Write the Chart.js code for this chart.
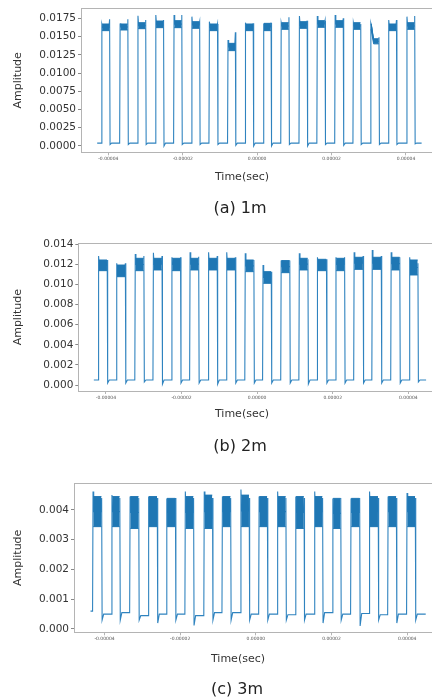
<!DOCTYPE html>
<html>
<head>
<meta charset="utf-8">
<script src="https://cdn.jsdelivr.net/npm/chart.js@4.4.0/dist/chart.umd.min.js"></script>
<style>
  body { margin: 0; background: #fff; width: 432px; height: 697px; overflow: hidden; position: relative; font-family: "DejaVu Sans", sans-serif; }
  canvas { position: absolute; left: 0; }
  .lbl { position: absolute; color: #333; transform: translate(-50%, -50%); white-space: nowrap; }
  .xt { font-size: 11px; }
  .cap { font-size: 16px; color: #222; }
</style>
</head>
<body>
<canvas id="c1" width="432" height="185" style="top:0px"></canvas>
<canvas id="c2" width="432" height="200" style="top:225px"></canvas>
<canvas id="c3" width="432" height="205" style="top:465px"></canvas>
<div class="lbl xt" style="left:242px;top:176px">Time(sec)</div>
<div class="lbl cap" style="left:240px;top:207px">(a) 1m</div>
<div class="lbl xt" style="left:242px;top:413px">Time(sec)</div>
<div class="lbl cap" style="left:240px;top:445px">(b) 2m</div>
<div class="lbl xt" style="left:238px;top:658px">Time(sec)</div>
<div class="lbl cap" style="left:237px;top:688px">(c) 3m</div>
<script>
// time values in microseconds, amplitudes

const xTicks = [-40, -20, 0, 20, 40]

// (a) 1m
const p1Rise = [-41.8, -36.9, -32.1, -27.3, -22.4, -17.6, -12.9, -7.9, -3.2, 1.7, 6.4, 11.3, 16.1, 20.9, 25.8, 30.5, 35.3, 40.2]
const p1Fall = [-39.6, -34.7, -29.9, -25.1, -20.2, -15.4, -10.6, -5.8, -1.0, 3.8, 8.6, 13.5, 18.3, 23.2, 27.9, 32.8, 37.5, 42.4]
const p1Top = [0.01672, 0.01672, 0.0169, 0.01713, 0.01718, 0.01704, 0.01672, 0.01407, 0.01672, 0.01681, 0.0169, 0.01704, 0.01718, 0.01718, 0.0169, 0.01675, 0.01672, 0.0169]
const p1Bot = [0.01581, 0.0159, 0.01608, 0.01622, 0.01622, 0.01613, 0.01581, 0.01307, 0.01581, 0.01581, 0.01599, 0.01613, 0.01627, 0.01627, 0.01599, 0.0160, 0.01581, 0.01599]
const p1SpikeL = [0.0167, 0.0168, 0.01786, 0.01796, 0.01796, 0.01773, 0.01704, 0.01453, 0.0169, 0.0168, 0.0169, 0.01782, 0.01782, 0.01796, 0.0169, 0.0168, 0.01727, 0.01773]
const p1SpikeR = [0.01736, 0.01736, 0.01727, 0.01727, 0.01796, 0.01704, 0.01672, 0.01558, 0.01681, 0.0169, 0.01764, 0.01718, 0.01718, 0.0175, 0.01672, 0.0149, 0.01727, 0.01782]
const p1Under = [0.0002, 0.0002, 0.0002, 0.0000, 0.0002, 0.0002, 0.0002, 0.0001, 0.0000, 0.0000, 0.0002, 0.0000, 0.0002, 0.0001, 0.0002, 0.0002, 0.0002, 0.0003]
const p1Low = [0.0004, 0.0004, 0.0004, 0.0004, 0.0004, 0.0004, 0.0004, 0.0004, 0.0004, 0.0004, 0.0004, 0.0004, 0.0004, 0.0004, 0.0004, 0.0004, 0.0004, 0.0004]
const p1Sag = { pulse: 15, from: 30.8, to: 31.3, top: 0.0147, bot: 0.0140 }
const p1YTicks = [0, 0.0025, 0.005, 0.0075, 0.01, 0.0125, 0.015, 0.0175]

// (b) 2m
const p2Rise = [-42.0, -37.2, -32.3, -27.5, -22.6, -17.8, -12.9, -8.1, -3.2, 1.5, 6.3, 11.1, 15.9, 20.8, 25.6, 30.4, 35.4, 40.3]
const p2Fall = [-39.6, -34.8, -29.9, -25.1, -20.2, -15.4, -10.5, -5.7, -0.8, 3.8, 8.7, 13.5, 18.4, 23.2, 28.1, 32.9, 37.8, 42.6]
const p2Top = [0.01244, 0.01194, 0.01261, 0.01261, 0.01261, 0.01261, 0.01261, 0.01261, 0.01244, 0.01128, 0.01238, 0.01261, 0.01251, 0.01261, 0.01271, 0.01271, 0.01271, 0.01244]
const p2Bot = [0.01138, 0.01078, 0.01138, 0.01145, 0.01138, 0.01145, 0.01145, 0.01145, 0.01128, 0.01012, 0.01118, 0.01145, 0.01138, 0.01138, 0.01151, 0.01151, 0.01145, 0.01095]
const p2SpikeL = [0.01284, 0.01211, 0.01304, 0.01317, 0.01271, 0.01321, 0.01321, 0.01321, 0.01311, 0.01194, 0.01238, 0.01311, 0.01271, 0.01271, 0.01321, 0.01344, 0.01321, 0.01271]
const p2SpikeR = [0.01244, 0.01211, 0.01284, 0.01284, 0.01271, 0.01277, 0.01284, 0.01271, 0.01244, 0.01128, 0.01238, 0.01251, 0.01251, 0.01271, 0.01284, 0.01284, 0.01271, 0.01211]
const p2Under = [0.0002, 0.0002, 0.0003, 0.0001, 0.0002, 0.0002, 0.0001, 0.0002, 0.0002, 0.0002, 0.0002, 0.0001, 0.0002, 0.0002, 0.0002, 0.0002, 0.0002, 0.0003]
const p2Low = [0.0005, 0.0005, 0.0005, 0.0005, 0.0005, 0.0005, 0.0005, 0.0005, 0.0005, 0.0005, 0.0005, 0.0005, 0.0005, 0.0005, 0.0005, 0.0005, 0.0005, 0.0005]
const p2YTicks = [0, 0.002, 0.004, 0.006, 0.008, 0.010, 0.012, 0.014]

// (c) 3m
const p3Rise = [-43.1, -38.1, -33.3, -28.4, -23.6, -18.7, -13.7, -8.9, -4.0, 0.8, 5.7, 10.5, 15.5, 20.3, 25.1, 30.0, 34.9, 39.9]
const p3Fall = [-40.7, -35.9, -30.9, -26.0, -21.2, -16.4, -11.4, -6.6, -1.7, 3.1, 8.0, 12.8, 17.7, 22.5, 27.5, 32.4, 37.2, 42.2]
const p3Top = [0.00445, 0.00445, 0.00445, 0.00445, 0.00439, 0.00445, 0.0045, 0.00445, 0.0045, 0.00445, 0.00445, 0.00445, 0.00445, 0.00439, 0.00439, 0.00445, 0.00445, 0.00445]
const p3Bot = [0.00344, 0.00344, 0.00338, 0.00344, 0.00344, 0.00338, 0.00338, 0.00344, 0.00344, 0.00344, 0.00344, 0.00338, 0.00344, 0.00338, 0.00344, 0.00344, 0.00344, 0.00344]
const p3SpikeL = [0.00462, 0.0045, 0.00445, 0.00445, 0.00439, 0.00462, 0.00462, 0.00445, 0.00469, 0.00445, 0.00462, 0.00445, 0.00462, 0.00439, 0.00439, 0.00462, 0.00445, 0.00457]
const p3SpikeR = [0.0044, 0.0044, 0.0044, 0.0044, 0.0044, 0.0044, 0.0044, 0.0044, 0.0044, 0.0044, 0.0044, 0.0044, 0.0044, 0.0044, 0.0044, 0.0044, 0.0044, 0.0044]
const p3Under = [0.0003, 0.0003, 0.0003, 0.0002, 0.0003, 0.00012, 0.0003, 0.0003, 0.0003, 0.0003, 0.0003, 0.0003, 0.0002, 0.0003, 0.0001, 0.0003, 0.0002, 0.0003]
const p3Low = [0.0005, 0.00055, 0.00045, 0.0005, 0.0005, 0.00045, 0.00055, 0.00055, 0.0005, 0.0005, 0.00048, 0.0005, 0.00055, 0.0005, 0.00052, 0.00048, 0.0005, 0.0005]
const p3YTicks = [0, 0.001, 0.002, 0.003, 0.004]

const EDGE = 0.12 // rise/fall time, us
const lineColor = '#2f83bf'
const bandColor = '#1f77b4'
const frameColor = '#b4b4b4'

const panels = [
  { id: 'c1', rise: p1Rise, fall: p1Fall, top: p1Top, bot: p1Bot, spikeL: p1SpikeL, spikeR: p1SpikeR, under: p1Under, low: p1Low, sag: p1Sag,
    start: -43.0, startLow: 0.0004, end: 44.2, yTicks: p1YTicks, digits: 4,
    xMin: -47.35, xMax: 46.99, yMin: -0.000868, yMax: 0.01887, padTop: 8.33, yW: 81, xH: 32.67 },
  { id: 'c2', rise: p2Rise, fall: p2Fall, top: p2Top, bot: p2Bot, spikeL: p2SpikeL, spikeR: p2SpikeR, under: p2Under, low: p2Low,
    start: -43.2, startLow: 0.0005, end: 44.7, yTicks: p2YTicks, digits: 3,
    xMin: -47.3, xMax: 46.26, yMin: -0.000597, yMax: 0.0141, padTop: 18.33, yW: 78.33, xH: 34 },
  { id: 'c3', rise: p3Rise, fall: p3Fall, top: p3Top, bot: p3Bot, spikeL: p3SpikeL, spikeR: p3SpikeR, under: p3Under, low: p3Low,
    start: -43.7, startLow: 0.0006, end: 44.9, yTicks: p3YTicks, digits: 3,
    xMin: -48.07, xMax: 46.56, yMin: -0.000112, yMax: 0.004896, padTop: 18.33, yW: 74, xH: 37.67 }
]

const buildTrace = (p) => {
  const pts = [{ x: p.start, y: p.startLow }]
  p.rise.forEach((r, i) => {
    const f = p.fall[i]
    const prevLow = i ? p.low[i - 1] : p.startLow
    const mid = (p.top[i] + p.bot[i]) / 2
    pts.push({ x: r - EDGE / 2, y: prevLow })
    pts.push({ x: r + EDGE / 2, y: p.spikeL[i] })
    pts.push({ x: r + 2 * EDGE, y: mid })
    if (p.sag && p.sag.pulse === i) {
      const mid2 = (p.sag.top + p.sag.bot) / 2
      pts.push({ x: p.sag.from, y: mid })
      pts.push({ x: p.sag.to, y: mid2 })
      pts.push({ x: f - 2 * EDGE, y: mid2 })
    } else {
      pts.push({ x: f - 2 * EDGE, y: mid })
    }
    pts.push({ x: f - EDGE / 2, y: p.spikeR[i] })
    pts.push({ x: f + EDGE / 2, y: p.under[i] })
    pts.push({ x: f + 4 * EDGE, y: p.low[i] })
  })
  pts.push({ x: p.end, y: p.low[p.low.length - 1] })
  return pts
}

const buildBand = (p, key) => {
  const pts = []
  p.rise.forEach((r, i) => {
    const f = p.fall[i]
    pts.push({ x: r + EDGE, y: p[key][i] })
    if (p.sag && p.sag.pulse === i) {
      pts.push({ x: p.sag.from, y: p[key][i] })
      pts.push({ x: p.sag.to, y: p.sag[key] })
      pts.push({ x: f - EDGE, y: p.sag[key] })
    } else {
      pts.push({ x: f - EDGE, y: p[key][i] })
    }
    pts.push({ x: f, y: null })
  })
  return pts
}

//Top frame line
const topFrame = {
  id: 'topFrame',
  afterDraw(chart) {
    const { ctx, chartArea } = chart
    ctx.save()
    ctx.strokeStyle = frameColor
    ctx.lineWidth = 1
    ctx.beginPath()
    ctx.moveTo(chartArea.left, Math.round(chartArea.top) + 0.5)
    ctx.lineTo(chartArea.right, Math.round(chartArea.top) + 0.5)
    ctx.stroke()
    ctx.restore()
  }
}

panels.forEach(p => {
  const ctx = document.getElementById(p.id).getContext('2d')
  new Chart(ctx, {
    type: 'line',
    data: {
      datasets: [
        { data: buildTrace(p), order: 2, borderColor: lineColor, borderWidth: 1.1, pointRadius: 0, tension: 0, fill: false },
        { data: buildBand(p, 'top'), order: 1, borderColor: bandColor, borderWidth: 1, pointRadius: 0, tension: 0, fill: false, spanGaps: false },
        { data: buildBand(p, 'bot'), order: 0, borderColor: bandColor, borderWidth: 1, pointRadius: 0, tension: 0, fill: '-1', backgroundColor: bandColor, spanGaps: false }
      ]
    },
    options: {
      responsive: false,
      animation: false,
      events: [],
      layout: { padding: { top: p.padTop, left: 0, right: 0, bottom: 0 } },
      plugins: { legend: { display: false }, tooltip: { enabled: false } },
      scales: {
        x: {
          type: 'linear',
          min: p.xMin,
          max: p.xMax,
          afterFit: s => { s.height = p.xH },
          afterBuildTicks: s => { s.ticks = xTicks.map(v => ({ value: v })) },
          grid: { display: true, drawOnChartArea: false, drawTicks: true, tickLength: 3, color: frameColor },
          border: { display: true, color: frameColor },
          ticks: {
            font: { family: 'DejaVu Sans', size: 4.5 },
            color: '#555',
            padding: 1,
            maxRotation: 0,
            autoSkip: false,
            callback: v => (v * 1e-6).toFixed(5)
          }
        },
        y: {
          min: p.yMin,
          max: p.yMax,
          afterFit: s => { s.width = p.yW },
          afterBuildTicks: s => { s.ticks = p.yTicks.map(v => ({ value: v })) },
          grid: { display: true, drawOnChartArea: false, drawTicks: true, tickLength: 3, color: '#888' },
          border: { display: true, color: frameColor },
          title: {
            display: true,
            text: 'Amplitude',
            color: '#333',
            font: { family: 'DejaVu Sans', size: 11 },
            padding: { top: 11.4, bottom: 0 }
          },
          ticks: {
            font: { family: 'DejaVu Sans', size: 10.5 },
            color: '#333',
            padding: 2,
            autoSkip: false,
            callback: v => v.toFixed(p.digits)
          }
        }
      }
    },
    plugins: [topFrame]
  })
})
</script>
</body>
</html>
